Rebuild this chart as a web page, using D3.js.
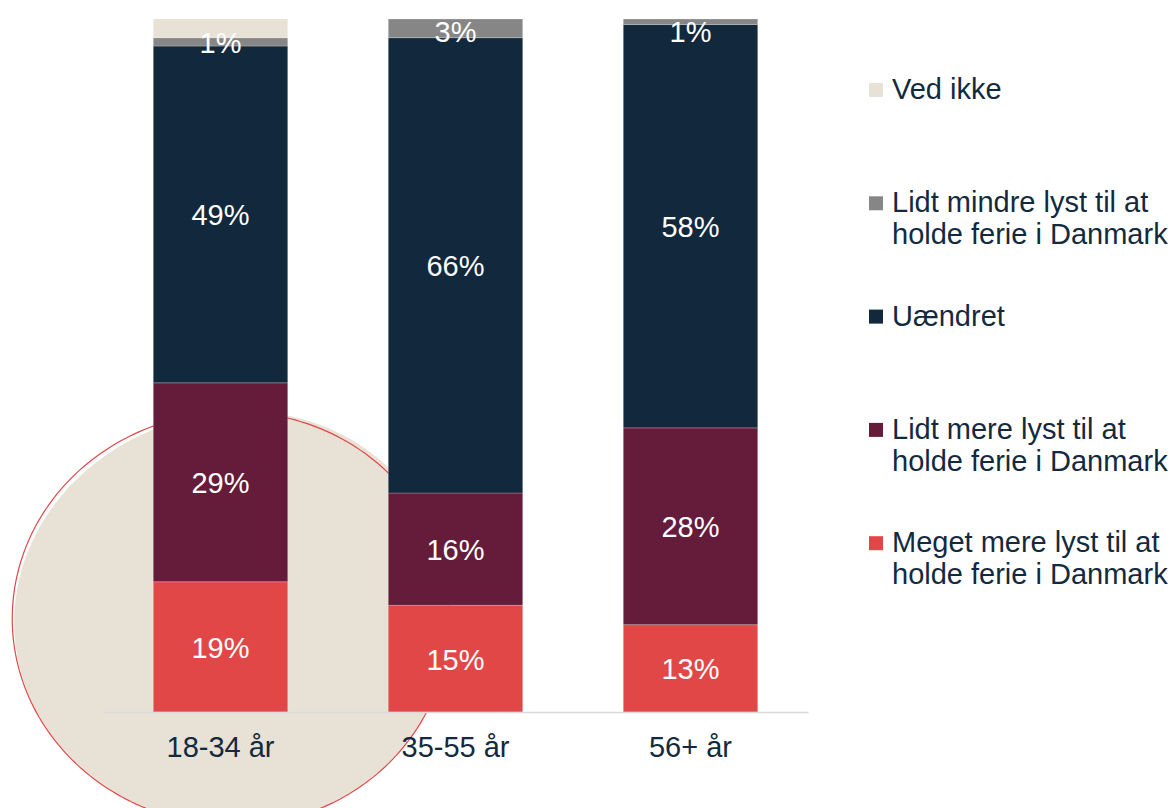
<!DOCTYPE html>
<html>
<head>
<meta charset="utf-8">
<script src="https://cdn.jsdelivr.net/npm/d3@7"></script>
<style>
  html, body { margin: 0; padding: 0; background: #ffffff; }
  svg { display: block; }
  text { font-family: "Liberation Sans", Arial, sans-serif; }
</style>
</head>
<body>
<svg id="chart" width="1175" height="808"></svg>
<script>
// ---------- data ----------
const categories = ["18-34 år", "35-55 år", "56+ år"];
const seriesNames = [
  "Meget mere lyst til at holde ferie i Danmark",
  "Lidt mere lyst til at holde ferie i Danmark",
  "Uændret",
  "Lidt mindre lyst til at holde ferie i Danmark",
  "Ved ikke"
];
const megetMere  = [18.8, 15.4, 12.6];
const lidtMere   = [28.7, 16.2, 28.4];
const uaendret   = [48.6, 65.7, 58.2];
const lidtMindre = [1.2, 2.7, 0.8];
const vedIkke    = [2.7, 0, 0];
const showLabel  = [true, true, true, true, false];
const legendOrder = ["Ved ikke", "Lidt mindre lyst til at|holde ferie i Danmark", "Uændret",
                     "Lidt mere lyst til at|holde ferie i Danmark", "Meget mere lyst til at|holde ferie i Danmark"];

// ---------- styles / layout ----------
const colors = ["#E14747", "#641C3A", "#12283C", "#868686", "#E8E1D6"];
const legendColors = ["#E8E1D6", "#868686", "#12283C", "#641C3A", "#E14747"];
const textColor = "#132A3E";
const fontSize = 29;

const svg = d3.select("#chart");

// ---------- decorative background shape (beige blob + red outline) ----------
// traced outline points, smoothed with a low-order Fourier fit of radius vs angle
const blobPts = [[15,620],[23,560],[43,517],[60,500],[83,470],[150,439],[287,415],[333,430],[387,463],
  [423,713],[407,750],[367,780],[320,806],[150,806],[117,792],[73,763],[40,720],[20,673]];
const ringPts = [[13,613],[22,547],[48,500],[103,457],[152,428],[287,419],[338,439],[387,467],
  [426,713],[403,753],[372,777],[340,798],[320,808],[160,808],[67,763],[57,742],[27,687]];
const ctr = [230, 620];

function solve(A, b) {
  const n = b.length, M = A.map((r, i) => r.concat([b[i]]));
  for (let i = 0; i < n; i++) {
    let p = i;
    for (let r = i + 1; r < n; r++) if (Math.abs(M[r][i]) > Math.abs(M[p][i])) p = r;
    [M[i], M[p]] = [M[p], M[i]];
    for (let r = 0; r < n; r++) {
      if (r === i) continue;
      const f = M[r][i] / M[i][i];
      for (let c = i; c <= n; c++) M[r][c] -= f * M[i][c];
    }
  }
  return M.map((r, i) => r[n] / r[i]);
}
function outline(pts) {
  const basis = t => [1, Math.cos(t), Math.sin(t), Math.cos(2 * t), Math.sin(2 * t),
                      0.5 * Math.cos(3 * t), 0.5 * Math.sin(3 * t)];
  const rows = pts.map(p => {
    const dx = p[0] - ctr[0], dy = p[1] - ctr[1];
    return { f: basis(Math.atan2(dy, dx)), r: Math.hypot(dx, dy) };
  });
  const k = 7, lambda = 2.0;   // small ridge penalty keeps the unseen parts calm
  const AtA = d3.range(k).map(i => d3.range(k).map(j =>
    d3.sum(rows, o => o.f[i] * o.f[j]) + (i === j && i > 2 ? lambda : 0)));
  const Atr = d3.range(k).map(i => d3.sum(rows, o => o.f[i] * o.r));
  const c = solve(AtA, Atr);
  return d3.range(240).map(i => {
    const t = i / 240 * 2 * Math.PI;
    const f = basis(t);
    const r = d3.sum(f, (v, j) => v * c[j]);
    return [ctr[0] + r * Math.cos(t), ctr[1] + r * Math.sin(t)];
  });
}
const closed = d3.line().curve(d3.curveLinearClosed);
svg.append("path").attr("d", closed(outline(blobPts))).attr("fill", "#E7E1D6");
svg.append("path").attr("d", closed(outline(ringPts))).attr("fill", "none")
  .attr("stroke", "#E14747").attr("stroke-width", 1.2);

// ---------- scales ----------
const x = d3.scaleBand().domain(categories).range([103, 808]).paddingInner(0.428).paddingOuter(0.214);
const y = d3.scaleLinear().domain([0, 100]).range([712, 19]);

const seriesArrays = [megetMere, lidtMere, uaendret, lidtMindre, vedIkke];
const table = categories.map((c, i) => {
  const row = { cat: c };
  seriesNames.forEach((s, k) => row[s] = seriesArrays[k][i]);
  return row;
});
const stacked = d3.stack().keys(seriesNames)(table);

const g = svg.append("g");
stacked.forEach((layer, k) => {
  g.selectAll(null).data(layer).join("rect")
    .attr("x", d => x(d.data.cat))
    .attr("width", x.bandwidth())
    .attr("y", d => y(d[1]))
    .attr("height", d => Math.max(0, y(d[0]) - y(d[1])))
    .attr("fill", colors[k])
    .attr("stroke", "#ffffff").attr("stroke-opacity", 0.22).attr("stroke-width", 1);
});

// axis baseline
const xAxis = d3.axisBottom(x).tickSize(0).tickPadding(0);
const axG = svg.append("g").attr("transform", "translate(0,712)").call(xAxis);
axG.select(".domain").attr("stroke", "#D9D9D9").attr("stroke-width", 1.6);
axG.selectAll(".tick text")
  .attr("y", 45).attr("dy", 0)
  .attr("fill", textColor).style("font-size", fontSize + "px")
  .style("font-family", '"Liberation Sans", Arial, sans-serif');

// data labels
stacked.forEach((layer, k) => {
  if (!showLabel[k]) return;
  g.selectAll(null).data(layer.filter(d => d[1] - d[0] > 0)).join("text")
    .attr("x", d => x(d.data.cat) + x.bandwidth() / 2)
    .attr("y", d => Math.max((y(d[0]) + y(d[1])) / 2, y(100) + 12) + 11)
    .attr("text-anchor", "middle")
    .attr("fill", "#ffffff")
    .style("font-size", fontSize + "px")
    .text(d => d3.format(".0f")(d[1] - d[0]) + "%");
});

// legend
const lg = svg.append("g");
legendOrder.forEach((lab, i) => {
  const b = 99 + i * 113.3;
  lg.append("rect").attr("x", 869).attr("y", b - 16).attr("width", 14).attr("height", 14)
    .attr("fill", legendColors[i]);
  const t = lg.append("text").attr("x", 892).attr("y", b).attr("fill", textColor)
    .style("font-size", fontSize + "px");
  lab.split("|").forEach((line, j) => {
    t.append("tspan").attr("x", 892).attr("y", b + j * 32).text(line);
  });
});
</script>
</body>
</html>
